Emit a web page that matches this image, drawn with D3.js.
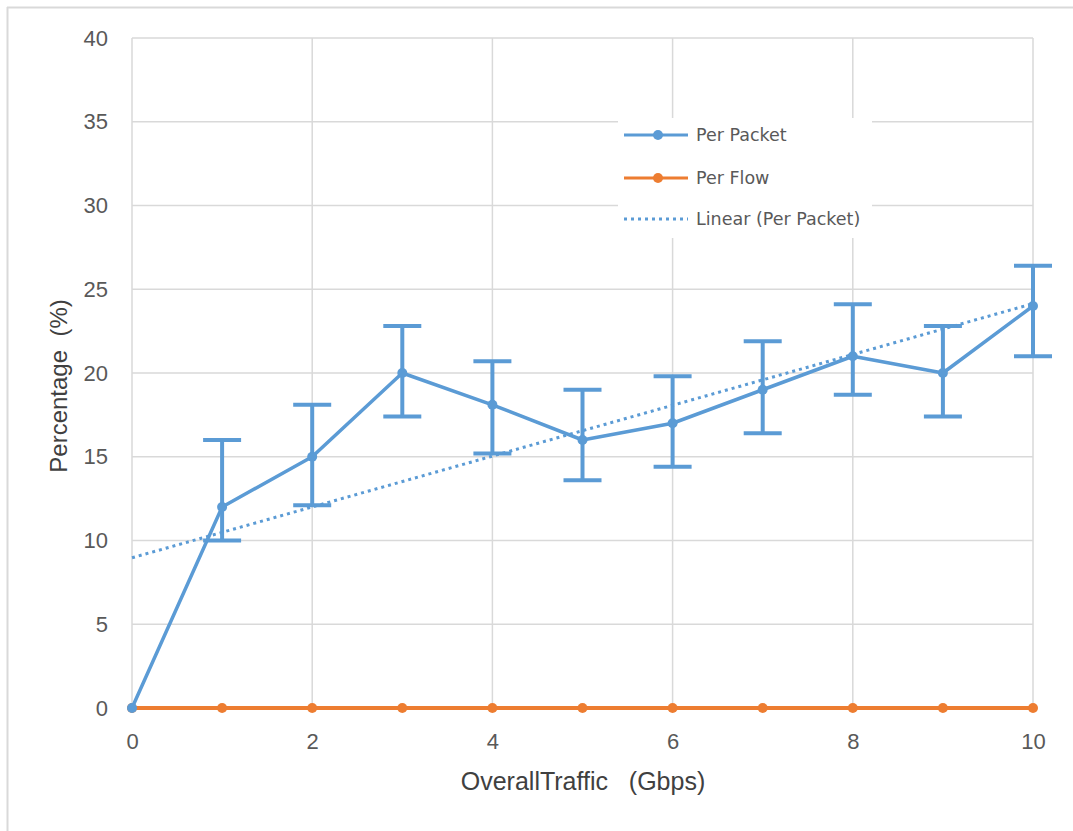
<!DOCTYPE html>
<html>
<head>
<meta charset="utf-8">
<script src="https://cdn.jsdelivr.net/npm/d3@7"></script>
<style>
  body { margin: 0; background: #fff; }
  svg { display: block; font-family: "Liberation Sans", Arial, sans-serif; }
</style>
</head>
<body>
<div id="chart"></div>
<script>
// chart data
const traffic = [0, 1, 2, 3, 4, 5, 6, 7, 8, 9, 10];
const perPacket = [0, 12, 15, 20, 18.1, 16, 17, 19, 21, 20, 24];
const perPacketLow = [null, 10, 12.1, 17.4, 15.2, 13.6, 14.4, 16.4, 18.7, 17.4, 21];
const perPacketHigh = [null, 16, 18.1, 22.8, 20.7, 19, 19.8, 21.9, 24.1, 22.8, 26.4];
const perFlow = [0, 0, 0, 0, 0, 0, 0, 0, 0, 0, 0];
const xTicks = [0, 2, 4, 6, 8, 10];
const yTicks = [0, 5, 10, 15, 20, 25, 30, 35, 40];
const legendLabels = ["Per Packet", "Per Flow", "Linear (Per Packet)"];

const blue = "#5b9bd5", orange = "#ed7d31", grid = "#d9d9d9", textCol = "#595959";

const W = 1073, H = 831;
const margin = {top: 38, right: 40, bottom: 123, left: 132};

const svg = d3.select("#chart").append("svg")
    .attr("width", W)
    .attr("height", H);

// outer frame (top and left edges visible)
svg.append("line").attr("x1", 7).attr("x2", W).attr("y1", 7.5).attr("y2", 7.5)
    .attr("stroke", grid).attr("stroke-width", 2);
svg.append("line").attr("x1", 7.5).attr("x2", 7.5).attr("y1", 7).attr("y2", H)
    .attr("stroke", grid).attr("stroke-width", 2);

const x = d3.scaleLinear().domain([0, 10]).range([margin.left, W - margin.right]);
const y = d3.scaleLinear().domain([0, 40]).range([H - margin.bottom, margin.top]);

// gridlines
svg.append("g").selectAll("line").data(yTicks).join("line")
    .attr("x1", x(0)).attr("x2", x(10))
    .attr("y1", d => y(d)).attr("y2", d => y(d))
    .attr("stroke", grid).attr("stroke-width", 1.5);
svg.append("g").selectAll("line").data(xTicks).join("line")
    .attr("x1", d => x(d)).attr("x2", d => x(d))
    .attr("y1", y(0)).attr("y2", y(40))
    .attr("stroke", grid).attr("stroke-width", 1.5);

// axes (labels only)
const yAxis = svg.append("g")
    .attr("transform", `translate(${x(0) - 24},0)`)
    .call(d3.axisLeft(y).tickValues(yTicks).tickSize(0).tickPadding(0));
const xAxis = svg.append("g")
    .attr("transform", `translate(0,${y(0) + 25})`)
    .call(d3.axisBottom(x).tickValues(xTicks).tickSize(0).tickPadding(0));
[xAxis, yAxis].forEach(a => {
    a.select(".domain").remove();
    a.selectAll("text").attr("fill", textCol).style("font-size", "22px");
});
xAxis.selectAll("text").attr("dy", "0.71em").attr("y", 0);

// axis titles
svg.append("text")
    .attr("x", 583).attr("y", 790)
    .attr("text-anchor", "middle")
    .attr("fill", "#404040")
    .style("font-size", "25px")
    .style("white-space", "pre")
    .text("OverallTraffic   (Gbps)");
svg.append("text")
    .attr("transform", `translate(67,386) rotate(-90)`)
    .attr("text-anchor", "middle")
    .attr("fill", "#404040")
    .style("font-size", "24px")
    .style("white-space", "pre")
    .text("Percentage  (%)");

// linear trend of Per Packet (least squares)
const mx = d3.mean(traffic), my = d3.mean(perPacket);
const slope = d3.sum(traffic, (t, i) => (t - mx) * (perPacket[i] - my)) / d3.sum(traffic, t => (t - mx) ** 2);
const intercept = my - slope * mx;

const line = d3.line().x(d => x(d[0])).y(d => y(d[1]));

// Per Flow
svg.append("path")
    .datum(traffic.map((t, i) => [t, perFlow[i]]))
    .attr("d", line)
    .attr("fill", "none").attr("stroke", orange).attr("stroke-width", 4);
svg.append("g").selectAll("circle").data(traffic).join("circle")
    .attr("cx", d => x(d)).attr("cy", (d, i) => y(perFlow[i]))
    .attr("r", 5).attr("fill", orange);

// Per Packet line
svg.append("path")
    .datum(traffic.map((t, i) => [t, perPacket[i]]))
    .attr("d", line)
    .attr("fill", "none").attr("stroke", blue).attr("stroke-width", 3.5)
    .attr("stroke-linejoin", "round");

// error bars
const eb = svg.append("g").attr("stroke", blue).attr("stroke-width", 4);
traffic.forEach((t, i) => {
    if (perPacketLow[i] == null) return;
    eb.append("line").attr("x1", x(t)).attr("x2", x(t))
        .attr("y1", y(perPacketLow[i])).attr("y2", y(perPacketHigh[i]));
    [perPacketLow[i], perPacketHigh[i]].forEach(v => {
        eb.append("line").attr("x1", x(t) - 19).attr("x2", x(t) + 19)
            .attr("y1", y(v)).attr("y2", y(v));
    });
});

svg.append("g").selectAll("circle").data(traffic).join("circle")
    .attr("cx", d => x(d)).attr("cy", (d, i) => y(perPacket[i]))
    .attr("r", 5).attr("fill", blue);

// trend line
svg.append("path")
    .datum([[0, intercept], [10, intercept + slope * 10]])
    .attr("d", line)
    .attr("fill", "none").attr("stroke", blue).attr("stroke-width", 3)
    .attr("stroke-dasharray", "3,4");

// legend
const lg = svg.append("g").attr("transform", "translate(618,118)");
lg.append("rect").attr("width", 254).attr("height", 120).attr("fill", "#fff");
const legendStyles = [
    {color: blue, dash: null, marker: true, w: 3},
    {color: orange, dash: null, marker: true, w: 3},
    {color: blue, dash: "3,4", marker: false, w: 3}
];
const legendY = [17, 60, 101];
legendLabels.forEach((lab, i) => {
    const s = legendStyles[i];
    const row = lg.append("g").attr("transform", `translate(0,${legendY[i]})`);
    row.append("line").attr("x1", 6).attr("x2", 70)
        .attr("stroke", s.color).attr("stroke-width", s.w)
        .attr("stroke-dasharray", s.dash);
    if (s.marker) row.append("circle").attr("cx", 40).attr("r", 5).attr("fill", s.color);
    row.append("text").attr("x", 78).attr("dy", "0.35em")
        .attr("fill", textCol)
        .style("font-family", "'DejaVu Sans', sans-serif")
        .style("font-size", "17.5px").text(lab);
});
</script>
</body>
</html>
